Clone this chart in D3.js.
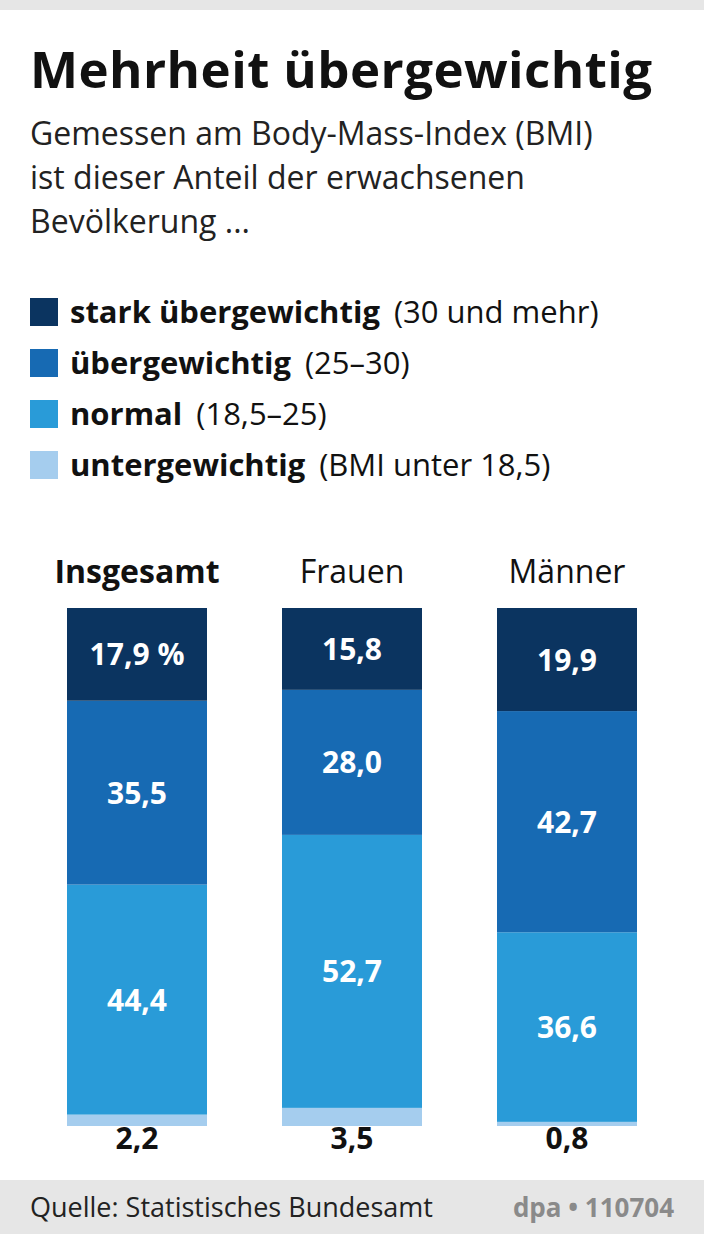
<!DOCTYPE html>
<html><head><meta charset="utf-8">
<script src="https://cdn.jsdelivr.net/npm/d3@7"></script>
<style>body{margin:0;background:#fff}text{font-family:"Open Sans",sans-serif}</style>
</head><body><div id="chart"></div>
<script>
// data
var groups = ["Insgesamt", "Frauen", "Männer"];
var seriesKeys = ["unter", "normal", "ueber", "stark"];
var unter = [2.2, 3.5, 0.8];
var normal = [44.4, 52.7, 36.6];
var ueber = [35.5, 28.0, 42.7];
var stark = [17.9, 15.8, 19.9];
var valueLabels = [
  ["2,2", "44,4", "35,5", "17,9 %"],
  ["3,5", "52,7", "28,0", "15,8"],
  ["0,8", "36,6", "42,7", "19,9"]
];
var legendBold = ["stark übergewichtig", "übergewichtig", "normal", "untergewichtig"];
var legendRange = ["(30 und mehr)", "(25–30)", "(18,5–25)", "(BMI unter 18,5)"];

var colors = {stark: "#0b3460", ueber: "#176ab3", normal: "#299bd8", unter: "#a5cdee"};
var legendColors = [colors.stark, colors.ueber, colors.normal, colors.unter];

var width = 704, height = 1234;
var svg = d3.select("#chart").append("svg").attr("width", width).attr("height", height);

// header / footer bands
svg.append("rect").attr("width", width).attr("height", 10).attr("fill", "#e6e6e6");
svg.append("rect").attr("y", 1180).attr("width", width).attr("height", 54).attr("fill", "#e6e6e6");

svg.append("text").attr("x", 30).attr("y", 88).attr("font-size", 51).attr("font-weight", 700)
  .attr("fill", "#111").attr("textLength", 622).text("Mehrheit übergewichtig");
["Gemessen am Body-Mass-Index (BMI)", "ist dieser Anteil der erwachsenen", "Bevölkerung ..."]
  .forEach(function(t, i){
    svg.append("text").attr("x", 30).attr("y", 145 + i * 44).attr("font-size", 32)
      .attr("fill", "#222").text(t);
  });

// legend
legendBold.forEach(function(t, i){
  var y = 298 + i * 51;
  svg.append("rect").attr("x", 30).attr("y", y).attr("width", 28).attr("height", 28)
    .attr("fill", legendColors[i]);
  var tx = svg.append("text").attr("x", 70).attr("y", y + 25).attr("font-size", 31).attr("fill", "#111");
  tx.append("tspan").attr("font-weight", 700).text(t);
  tx.append("tspan").attr("dx", 14).text(legendRange[i]);
});

// stacked bars
var rows = groups.map(function(g, i){
  return {group: g, unter: unter[i], normal: normal[i], ueber: ueber[i], stark: stark[i]};
});
var stack = d3.stack().keys(seriesKeys)(rows);

var x = d3.scaleBand().domain(groups).range([67, 637]).paddingInner(75 / 215).paddingOuter(0);
var y = d3.scaleLinear().domain([0, 100]).range([1126, 608]);

svg.selectAll(".grpLabel").data(groups).enter().append("text")
  .attr("x", function(d){ return x(d) + x.bandwidth() / 2; })
  .attr("y", 583).attr("text-anchor", "middle").attr("font-size", 32)
  .attr("font-weight", function(d, i){ return i === 0 ? 700 : 400; })
  .attr("fill", "#111").text(function(d){ return d; });

stack.forEach(function(layer, li){
  svg.selectAll(".bar" + li).data(layer).enter().append("rect")
    .attr("x", function(d){ return x(d.data.group); })
    .attr("y", function(d){ return y(d[1]); })
    .attr("width", x.bandwidth())
    .attr("height", function(d){ return y(d[0]) - y(d[1]); })
    .attr("fill", colors[layer.key]);
  svg.selectAll(".lab" + li).data(layer).enter().append("text")
    .attr("x", function(d){ return x(d.data.group) + x.bandwidth() / 2; })
    .attr("y", function(d){ return li === 0 ? 1149 : (y(d[0]) + y(d[1])) / 2 + 11; })
    .attr("text-anchor", "middle").attr("font-size", 30).attr("font-weight", 700)
    .attr("fill", li === 0 ? "#111" : "#fff")
    .text(function(d, i){ return valueLabels[i][li]; });
});

// footer
svg.append("text").attr("x", 30).attr("y", 1217).attr("font-size", 27).attr("fill", "#222")
  .text("Quelle: Statistisches Bundesamt");
svg.append("text").attr("x", 674).attr("y", 1217).attr("font-size", 26).attr("font-weight", 700)
  .attr("text-anchor", "end").attr("fill", "#8a8a8a").text("dpa • 110704");
</script></body></html>
